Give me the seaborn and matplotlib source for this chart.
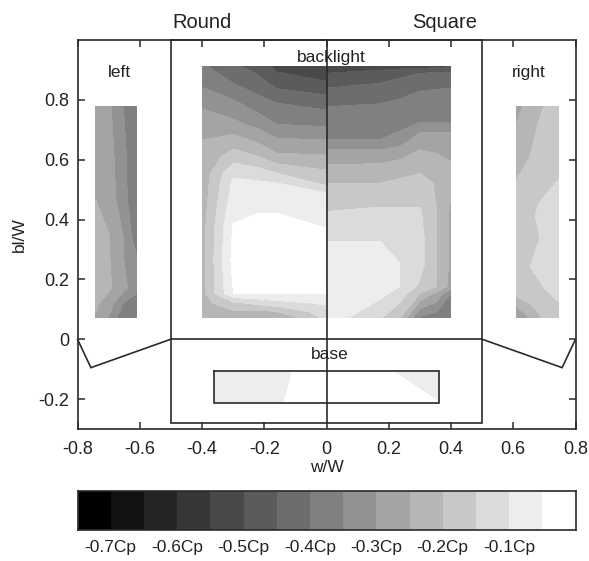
import numpy as np
import matplotlib
matplotlib.use("Agg")
import matplotlib.pyplot as plt
import seaborn as sns

sns.set_style("ticks")
plt.rcParams['font.family'] = ['Liberation Sans', 'DejaVu Sans']

levels = [-0.75, -0.70, -0.65, -0.60, -0.55, -0.50, -0.45, -0.40, -0.35, -0.30,
          -0.25, -0.20, -0.15, -0.10, -0.05, 0.0]
band_index = list(range(15))
greys = [str(i / 14) for i in band_index]
cbar_labels = ['-0.7Cp', '-0.6Cp', '-0.5Cp', '-0.4Cp', '-0.3Cp', '-0.2Cp', '-0.1Cp']
cbar_ticks = [1, 3, 5, 7, 9, 11, 13]

# backlight, round half
round_x = [-0.40, -0.299, -0.219, -0.160, 0.0]
round_y = [.911, .855, .789, .722, .666, .610, .555, .522, .488,
           .421, .371, .265, .154, .121, .093, .071]
round_cp = [
    [-.39, -.44, -.47, -.515, -.54],
    [-.36, -.40, -.43, -.468, -.494],
    [-.31, -.34, -.38, -.40, -.419],
    [-.275, -.29, -.32, -.354, -.363],
    [-.25, -.231, -.262, -.294, -.30],
    [-.24, -.175, -.20, -.238, -.245],
    [-.235, -.11, -.125, -.15, -.19],
    [-.232, -.09, -.093, -.10, -.165],
    [-.23, -.082, -.078, -.083, -.098],
    [-.225, -.061, -.05, -.05, -.073],
    [-.22, -.045, -.04, -.04, -.05],
    [-.22, -.035, -.03, -.03, -.03],
    [-.22, -.05, -.05, -.05, -.05],
    [-.22, -.16, -.135, -.117, -.093],
    [-.22, -.206, -.21, -.20, -.12],
    [-.22, -.23, -.25, -.25, -.14],
]

# backlight, square half
square_x = [0.0, .171, .236, .300, .354, .40]
square_y = [.911, .889, .839, .777, .724, .691, .666, .633,
            .583, .521, .427, .327, .254, .176, .154, .071]
square_cp = [
    [-.54, -.52, -.52, -.52, -.51, -.50],
    [-.50, -.483, -.465, -.45, -.445, -.445],
    [-.45, -.433, -.42, -.405, -.402, -.40],
    [-.40, -.394, -.385, -.375, -.37, -.375],
    [-.385, -.385, -.375, -.35, -.35, -.35],
    [-.372, -.365, -.346, -.30, -.30, -.30],
    [-.35, -.35, -.318, -.285, -.285, -.29],
    [-.30, -.30, -.29, -.25, -.26, -.27],
    [-.25, -.246, -.23, -.216, -.22, -.245],
    [-.20, -.20, -.19, -.182, -.205, -.24],
    [-.15, -.141, -.143, -.145, -.20, -.26],
    [-.10, -.10, -.115, -.13, -.20, -.26],
    [-.09, -.085, -.10, -.13, -.20, -.26],
    [-.08, -.08, -.10, -.16, -.20, -.27],
    [-.08, -.085, -.12, -.20, -.26, -.35],
    [-.07, -.145, -.20, -.36, -.38, -.395],
]

# left wall
left_x = [-.741, -.696, -.653, -.610]
left_y = [.777, .644, .466, .343, .277, .171, .121, .071]
left_cp = [
    [-.27, -.295, -.35, -.39],
    [-.275, -.285, -.34, -.39],
    [-.25, -.275, -.33, -.395],
    [-.235, -.25, -.30, -.38],
    [-.23, -.25, -.30, -.35],
    [-.23, -.245, -.285, -.33],
    [-.24, -.28, -.35, -.39],
    [-.26, -.31, -.39, -.395],
]

# right wall
right_x = [.611, .654, .697, .745]
right_y = [.777, .722, .610, .533, .449, .410, .338, .243, .143, .110, .071]
right_cp = [
    [-.27, -.225, -.20, -.17],
    [-.25, -.215, -.19, -.165],
    [-.225, -.20, -.185, -.16],
    [-.20, -.185, -.175, -.15],
    [-.185, -.165, -.14, -.13],
    [-.18, -.16, -.135, -.125],
    [-.18, -.165, -.145, -.125],
    [-.18, -.15, -.13, -.12],
    [-.20, -.185, -.16, -.145],
    [-.25, -.205, -.185, -.155],
    [-.29, -.25, -.195, -.165],
]

# base
base_x = [-.361, -.136, -.108, 0.0, .21, .363]
base_y = [-.105, -.212]
base_cp = [
    [-.08, -.06, -.05, -.03, -.05, -.08],
    [-.08, -.05, -.045, -.03, -.04, -.05],
]

# building outline (plan and frame), in w/W and b/W units
frame_x = [-.5, .5, .5, -.5, -.5]
frame_y = [1.0, 1.0, -.28, -.28, 1.0]
plate_x = [-.361, .363, .363, -.361, -.361]
plate_y = [-.105, -.105, -.212, -.212, -.105]
left_wing_x = [-.5, -.757, -.8]
left_wing_y = [0, -.095, 0]
right_wing_x = [.5, .757, .8]
right_wing_y = [0, -.095, 0]
mid_x = [-.5, .5]
mid_y = [0, 0]
axis_x = [0, 0]
axis_y = [-.28, 1.0]

LINE = '#2a2a2a'
TEXT = '#222222'
W, H = 589, 561
fig = plt.figure(figsize=(W / 100, H / 100), dpi=100)
ax = fig.add_axes([77.5 / W, 1 - 429 / H, 498 / W, 389 / H])
cax = fig.add_axes([77.5 / W, 1 - 530 / H, 498 / W, 39 / H])

for xs, ys, zs in [(round_x, round_y, round_cp), (square_x, square_y, square_cp),
                   (left_x, left_y, left_cp), (right_x, right_y, right_cp),
                   (base_x, base_y, base_cp)]:
    ax.contourf(xs, ys, np.array(zs), levels=levels, colors=greys)

for xs, ys in [(frame_x, frame_y), (plate_x, plate_y), (left_wing_x, left_wing_y),
               (right_wing_x, right_wing_y), (mid_x, mid_y), (axis_x, axis_y)]:
    ax.plot(xs, ys, color=LINE, lw=1.2, solid_joinstyle='miter', clip_on=False)

ax.set_xlim(-.8, .8)
ax.set_ylim(-.3, 1.0)
ax.set_xticks([-.8, -.6, -.4, -.2, 0, .2, .4, .6, .8])
ax.set_xticklabels(['-0.8', '-0.6', '-0.4', '-0.2', '0', '0.2', '0.4', '0.6', '0.8'])
ax.set_yticks([-.2, 0, .2, .4, .6, .8])
ax.set_yticklabels(['-0.2', '0', '0.2', '0.4', '0.6', '0.8'])
ax.tick_params(direction='in', top=True, right=True, length=5, width=1.1, color=LINE,
               labelsize=13, labelcolor=TEXT, pad=6)
ax.tick_params(axis='x', pad=9)
ax.set_xlabel('w/W', fontsize=12.5, color=TEXT, labelpad=1)
ax.set_ylabel('bl/W', fontsize=12.5, color=TEXT, labelpad=8)
for s in ax.spines.values():
    s.set_visible(True)
    s.set_linewidth(1.2)
    s.set_color(LINE)

for txt, x, y, fs in [('Round', -.40, 1.058, 14.5), ('Square', .38, 1.058, 14.5),
                      ('backlight', .015, .94, 12.5), ('left', -.664, .89, 12.5),
                      ('right', .65, .89, 12.5), ('base', .012, -.05, 12.5)]:
    ax.text(x, y, txt, ha='center', va='center', fontsize=fs, color=TEXT, clip_on=False)

sns.heatmap(np.array([band_index]), ax=cax, cmap=matplotlib.colors.ListedColormap(greys),
            vmin=-.5, vmax=14.5, cbar=False, xticklabels=False, yticklabels=False)
cax.set_xticks(cbar_ticks)
cax.set_xticklabels(cbar_labels)
cax.set_yticks([])
cax.tick_params(axis='x', direction='in', top=True, bottom=True, length=4, width=1.1,
                color=LINE, labelsize=12.5, labelcolor=TEXT, pad=7.5, labelrotation=0)
for s in cax.spines.values():
    s.set_visible(True)
    s.set_linewidth(1.2)
    s.set_color(LINE)

fig.savefig('out.png', dpi=100, facecolor='white')
